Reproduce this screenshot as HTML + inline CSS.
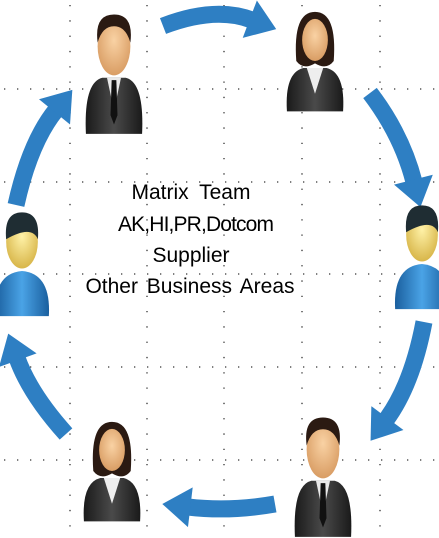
<!DOCTYPE html>
<html><head><meta charset="utf-8"><style>
html,body{margin:0;padding:0;background:#fff;width:439px;height:538px;overflow:hidden}
svg{display:block}
text{font-family:"Liberation Sans",sans-serif;font-size:21px;fill:#000}
</style></head><body>
<svg width="439" height="538" viewBox="0 0 439 538">
<defs>
<marker id="ah" markerUnits="userSpaceOnUse" markerWidth="40" markerHeight="40" refX="2" refY="0" viewBox="-2 -17 30 34" orient="auto"><path d="M0,-17 L24,0 L0,17 z" fill="#2e7fc3"/></marker>
<linearGradient id="suit" x1="0" y1="0" x2="1" y2="0"><stop offset="0" stop-color="#1a1a1a"/><stop offset=".5" stop-color="#4a4a4a"/><stop offset="1" stop-color="#1a1a1a"/></linearGradient>
<linearGradient id="blue" x1="0" y1="0" x2="1" y2="0"><stop offset="0" stop-color="#1a5f9e"/><stop offset=".5" stop-color="#4aa3e6"/><stop offset="1" stop-color="#1a5f9e"/></linearGradient>
<radialGradient id="skin" cx=".5" cy=".4" r=".6"><stop offset="0" stop-color="#f9d2a4"/><stop offset="1" stop-color="#d99d64"/></radialGradient>
<radialGradient id="skin2" cx=".5" cy=".4" r=".6"><stop offset="0" stop-color="#fff2a8"/><stop offset="1" stop-color="#d8b64a"/></radialGradient>
<g id="man">
<path d="M-24,70 Q-26,26 -10,22 L10,22 Q26,26 24,70 Z" fill="url(#suit)"/>
<path d="M-6,22 L0,50 L6,22 Z" fill="#e8e8e8"/><path d="M-2,24 L2,24 L3,54 L0,62 L-3,54 Z" fill="#111"/>
<ellipse cx="0" cy="-5" rx="14" ry="25" fill="url(#skin)"/>
<path d="M-14,-8 Q-17,-32 0,-32 Q17,-32 14,-8 Q10,-22 0,-22 Q-10,-22 -14,-8 Z" fill="#2b1a12"/>
</g>
<g id="woman">
<path d="M-24,55 Q-26,22 -10,18 L10,18 Q26,22 24,55 Z" fill="url(#suit)"/>
<path d="M-7,18 L0,40 L7,18 Z" fill="#eee"/>
<path d="M-16,12 Q-19,-30 0,-30 Q19,-30 16,12 Q10,20 0,14 Q-10,20 -16,12 Z" fill="#2b1a12"/>
<ellipse cx="0" cy="-6" rx="11" ry="18" fill="url(#skin)"/>
</g>
<g id="blueman">
<path d="M-22,55 Q-24,20 0,18 Q24,20 22,55 Z" fill="url(#blue)"/>
<ellipse cx="0" cy="-6" rx="13" ry="22" fill="url(#skin2)"/>
<path d="M-13,-8 Q-15,-30 0,-30 Q15,-30 13,-8 Q8,-20 -13,-8 Z" fill="#1f2d33"/>
</g>
</defs>
<g stroke="#333" stroke-width="1.3" fill="none">
<g stroke-dasharray="1.3 14">
<line x1="70" y1="5" x2="70" y2="538"/><line x1="147" y1="5" x2="147" y2="538"/><line x1="224" y1="5" x2="224" y2="538"/><line x1="302" y1="5" x2="302" y2="538"/><line x1="380" y1="5" x2="380" y2="538"/></g>
<g stroke-dasharray="1.3 11.7">
<line x1="4" y1="89" x2="439" y2="89"/><line x1="4" y1="182" x2="439" y2="182"/><line x1="4" y1="274" x2="439" y2="274"/><line x1="4" y1="367" x2="439" y2="367"/><line x1="4" y1="460" x2="439" y2="460"/></g>
</g>
<g stroke="#2e7fc3" stroke-width="17" fill="none" marker-end="url(#ah)">
<path d="M163,26 Q215,6 252,20"/>
<path d="M370,93 Q402,135 414,182"/>
<path d="M424,322 Q412,385 386,420"/>
<path d="M275,504 Q230,512 188,507"/>
<path d="M66,434 Q30,394 17,358"/>
<path d="M16,205 Q30,142 56,110"/>
</g>
<g transform="translate(114,52) scale(1.17)"><use href="#man"/></g>
<g transform="translate(315,47) scale(1.17)"><use href="#woman"/></g>
<g transform="translate(422,242) scale(1.22)"><use href="#blueman"/></g>
<g transform="translate(323,455) scale(1.17)"><use href="#man"/></g>
<g transform="translate(112,457) scale(1.17)"><use href="#woman"/></g>
<g transform="translate(22,249) scale(1.22)"><use href="#blueman"/></g>
<g text-anchor="middle">
<text x="191" y="199" word-spacing="5">Matrix Team</text>
<text x="196" y="231" textLength="156">AK,HI,PR,Dotcom</text>
<text x="191" y="262">Supplier</text>
<text x="190" y="293" word-spacing="3">Other Business Areas</text>
</g>
</svg>
</body></html>
